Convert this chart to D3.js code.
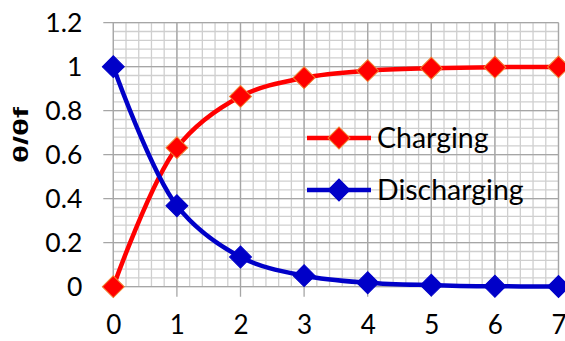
<!DOCTYPE html>
<html><head><meta charset="utf-8">
<script src="https://d3js.org/d3.v7.min.js"></script>
<style>body{margin:0;background:#fff}svg{display:block}</style>
</head><body>
<script>
const times = [0, 1, 2, 3, 4, 5, 6, 7];
const charging = [0, 0.632, 0.865, 0.95, 0.982, 0.993, 0.998, 0.999];
const discharging = [1, 0.368, 0.135, 0.05, 0.018, 0.007, 0.002, 0.001];
const xTicks = [0, 1, 2, 3, 4, 5, 6, 7];
const yTicks = [0, 0.2, 0.4, 0.6, 0.8, 1, 1.2];
const seriesNames = ["Charging", "Discharging"];

const W = 565, H = 341;
const font = "Lato, 'Open Sans', sans-serif";
const svg = d3.select("body").append("svg").attr("width", W).attr("height", H);
const x = d3.scaleLinear().domain([0, 7]).range([113.3, 558.5]);
const y = d3.scaleLinear().domain([0, 1.2]).range([286.7, 22.7]);

const g = svg.append("g");
const xMinor = d3.range(0, 7.0001, 0.2);
const yMinor = d3.range(0, 1.2001, 0.04);
g.selectAll(".vmin").data(xMinor).join("line")
  .attr("x1", d => x(d)).attr("x2", d => x(d)).attr("y1", y(0)).attr("y2", y(1.2))
  .attr("stroke", "#cfcfcf").attr("stroke-width", 1.3);
g.selectAll(".hmin").data(yMinor).join("line")
  .attr("y1", d => y(d)).attr("y2", d => y(d)).attr("x1", x(0)).attr("x2", x(7))
  .attr("stroke", "#cfcfcf").attr("stroke-width", 1.3);
g.selectAll(".vmaj").data(xTicks).join("line")
  .attr("x1", d => x(d)).attr("x2", d => x(d)).attr("y1", y(0) + 10).attr("y2", y(1.2))
  .attr("stroke", "#a6a6a6").attr("stroke-width", 1.3);
g.selectAll(".hmaj").data(yTicks).join("line")
  .attr("y1", d => y(d)).attr("y2", d => y(d)).attr("x1", x(0) - 10).attr("x2", x(7))
  .attr("stroke", "#a6a6a6").attr("stroke-width", 1.3);

const yAxis = d3.axisLeft(y).tickValues(yTicks).tickSize(0).tickPadding(31)
  .tickFormat(d => d3.format("")(+d.toFixed(1)));
const ya = svg.append("g").attr("transform", `translate(${x(0)},0)`).call(yAxis);
ya.select(".domain").remove();
ya.selectAll("text").attr("font-family", font).attr("font-size", 26.5).attr("fill", "#000");
const xAxis = d3.axisBottom(x).tickValues(xTicks).tickSize(0).tickPadding(29).tickFormat(d3.format("d"));
const xa = svg.append("g").attr("transform", `translate(0,${y(0)})`).call(xAxis);
xa.select(".domain").remove();
xa.selectAll("text").attr("font-family", font).attr("font-size", 26).attr("fill", "#000");

svg.append("text").attr("transform", `translate(28,135) rotate(-90)`)
  .attr("text-anchor", "middle").attr("font-family", "'Liberation Sans', Arial, sans-serif").attr("font-weight", "bold")
  .attr("font-size", 20).attr("textLength", 56).attr("lengthAdjust", "spacingAndGlyphs").text("θ/θf");

const line = d3.line().x(d => x(d[0])).y(d => y(d[1])).curve(d3.curveCatmullRom.alpha(0.5));
const series = [
  {name: seriesNames[0], vals: charging, color: "#ff0000", stroke: "#f08030"},
  {name: seriesNames[1], vals: discharging, color: "#0000c8", stroke: "#0000c8"}
];
const diamond = d3.symbol().type(d3.symbolSquare).size(240);
series.forEach(s => {
  const pts = times.map((t, i) => [t, s.vals[i]]);
  svg.append("path").attr("d", line(pts)).attr("fill", "none")
    .attr("stroke", s.color).attr("stroke-width", 4.5);
});
series.forEach(s => {
  const pts = times.map((t, i) => [t, s.vals[i]]);
  svg.selectAll(null).data(pts).join("path").attr("d", diamond)
    .attr("transform", d => `translate(${x(d[0])},${y(d[1])}) rotate(45)`)
    .attr("fill", s.color).attr("stroke", s.stroke).attr("stroke-width", 1);
});

const leg = svg.append("g");
series.forEach((s, i) => {
  const cy = 138 + i * 52;
  leg.append("line").attr("x1", 307).attr("x2", 371).attr("y1", cy).attr("y2", cy)
    .attr("stroke", s.color).attr("stroke-width", 4.5);
  leg.append("path").attr("d", diamond).attr("transform", `translate(339,${cy}) rotate(45)`)
    .attr("fill", s.color).attr("stroke", s.stroke).attr("stroke-width", 1);
  leg.append("text").attr("x", 377).attr("y", cy).attr("dy", "0.35em")
    .attr("font-family", font).attr("font-size", 28.5).text(s.name);
});
</script>
</body></html>
